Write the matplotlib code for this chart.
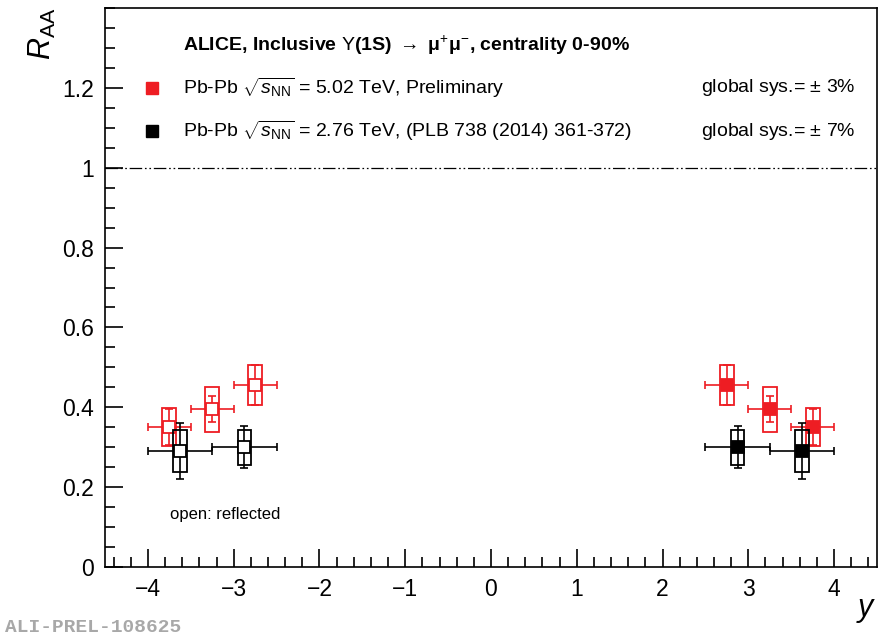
import numpy as np
import matplotlib.pyplot as plt
from matplotlib.patches import Rectangle
from matplotlib.lines import Line2D
from matplotlib.ticker import MultipleLocator

plt.rcParams['font.family'] = ['Liberation Sans', 'DejaVu Sans']
plt.rcParams['mathtext.fontset'] = 'custom'
plt.rcParams['mathtext.rm'] = 'Liberation Sans'
plt.rcParams['mathtext.it'] = 'Liberation Sans:italic'
plt.rcParams['mathtext.bf'] = 'Liberation Sans:bold'
plt.rcParams['lines.scale_dashes'] = False

# Pb-Pb 5.02 TeV (preliminary)
y_502 = [2.75, 3.25, 3.75]
dy_502 = [0.25, 0.25, 0.25]
raa_502 = [0.455, 0.395, 0.35]
stat_502 = [0.05, 0.033, 0.045]
syst_502 = [0.05, 0.056, 0.047]

# Pb-Pb 2.76 TeV (PLB 738 (2014) 361-372)
y_276 = [2.875, 3.625]
dy_276 = [0.375, 0.375]
raa_276 = [0.30, 0.29]
stat_276 = [0.053, 0.07]
syst_276 = [0.044, 0.052]

red = '#ee1d23'
black = 'black'
box_hw = 0.08

W, H = 879, 639
fig = plt.figure(figsize=(W / 100, H / 100), dpi=100)
ax = fig.add_axes([105 / W, 1 - 567 / H, 772 / W, 559 / H])


def draw_set(ys, dys, vals, stats, systs, color, zo):
    # positive rapidity: filled markers, negative side: reflected, open markers
    for sign, face in ((1, color), (-1, 'white')):
        xs = [sign * v for v in ys]
        for x, v, s in zip(xs, vals, systs):
            ax.add_patch(Rectangle((x - box_hw, v - s), 2 * box_hw, 2 * s,
                                   fill=False, edgecolor=color, lw=1.3, zorder=zo))
        ax.errorbar(xs, vals, xerr=dys, yerr=stats, fmt='none', ecolor=color,
                    elinewidth=1.2, capsize=3, capthick=1.2, zorder=zo + 1)
        ax.plot(xs, vals, 's', ms=9, mfc=face, mec=color, mew=1.3, ls='none',
                zorder=zo + 2)


draw_set(y_502, dy_502, raa_502, stat_502, syst_502, red, 3)
draw_set(y_276, dy_276, raa_276, stat_276, syst_276, black, 6)

ax.axhline(1.0, color='black', lw=0.9, ls=(0, (9, 2, 1.2, 2, 1.2, 2)), zorder=1)

ax.set_xlim(-4.5, 4.5)
ax.set_ylim(0, 1.4)
ax.xaxis.set_major_locator(MultipleLocator(1))
ax.xaxis.set_minor_locator(MultipleLocator(0.2))
ax.yaxis.set_minor_locator(MultipleLocator(0.05))
ax.set_yticks([0, 0.2, 0.4, 0.6, 0.8, 1.0, 1.2])
ax.set_yticklabels(['0', '0.2', '0.4', '0.6', '0.8', '1', '1.2'])
ax.tick_params(which='both', direction='in', top=False, right=False, width=1.2,
               labelsize=16.5, colors='black')
ax.tick_params(which='major', length=13)
ax.tick_params(which='minor', length=7)
ax.tick_params(axis='x', pad=8)
ax.tick_params(axis='y', pad=8)
for sp in ax.spines.values():
    sp.set_linewidth(1.2)


def fx(px):
    return px / W


def fy(py):
    return 1 - py / H


fig.text(fx(42), fy(8), r'$R_{\mathrm{AA}}$', rotation=90, fontsize=22,
         ha='center', va='top')
fig.text(fx(866), fy(610), r'$y$', fontsize=22, ha='center', va='center')

fig.text(fx(183), fy(45), 'ALICE, Inclusive $\\Upsilon$(1S) $\\rightarrow$ μ$^{+}$μ$^{-}$, centrality 0-90%',
         fontsize=14, fontweight='bold', ha='left', va='center')

rows = [
    (88, red, r'Pb-Pb $\sqrt{s_{\mathrm{NN}}}$ = 5.02 TeV, Preliminary', 'global sys.= $\\pm$ 3%'),
    (131, black, r'Pb-Pb $\sqrt{s_{\mathrm{NN}}}$ = 2.76 TeV, (PLB 738 (2014) 361-372)', 'global sys.= $\\pm$ 7%'),
]
for py, col, label, gsys in rows:
    fig.add_artist(Line2D([fx(152)], [fy(py)], marker='s', ms=9, color=col,
                          ls='none', transform=fig.transFigure))
    fig.text(fx(183), fy(py), label, fontsize=14, ha='left', va='center')
    fig.text(fx(856), fy(py), gsys, fontsize=14, ha='right', va='center')

fig.text(fx(170), fy(515), 'open: reflected', fontsize=12, ha='left', va='center')

fig.text(fx(5), fy(628), 'ALI-PREL-108625', fontsize=14, family='Liberation Mono',
         fontweight='bold', color='#a8a8a8', ha='left', va='center')

fig.savefig('out.png', dpi=100)
